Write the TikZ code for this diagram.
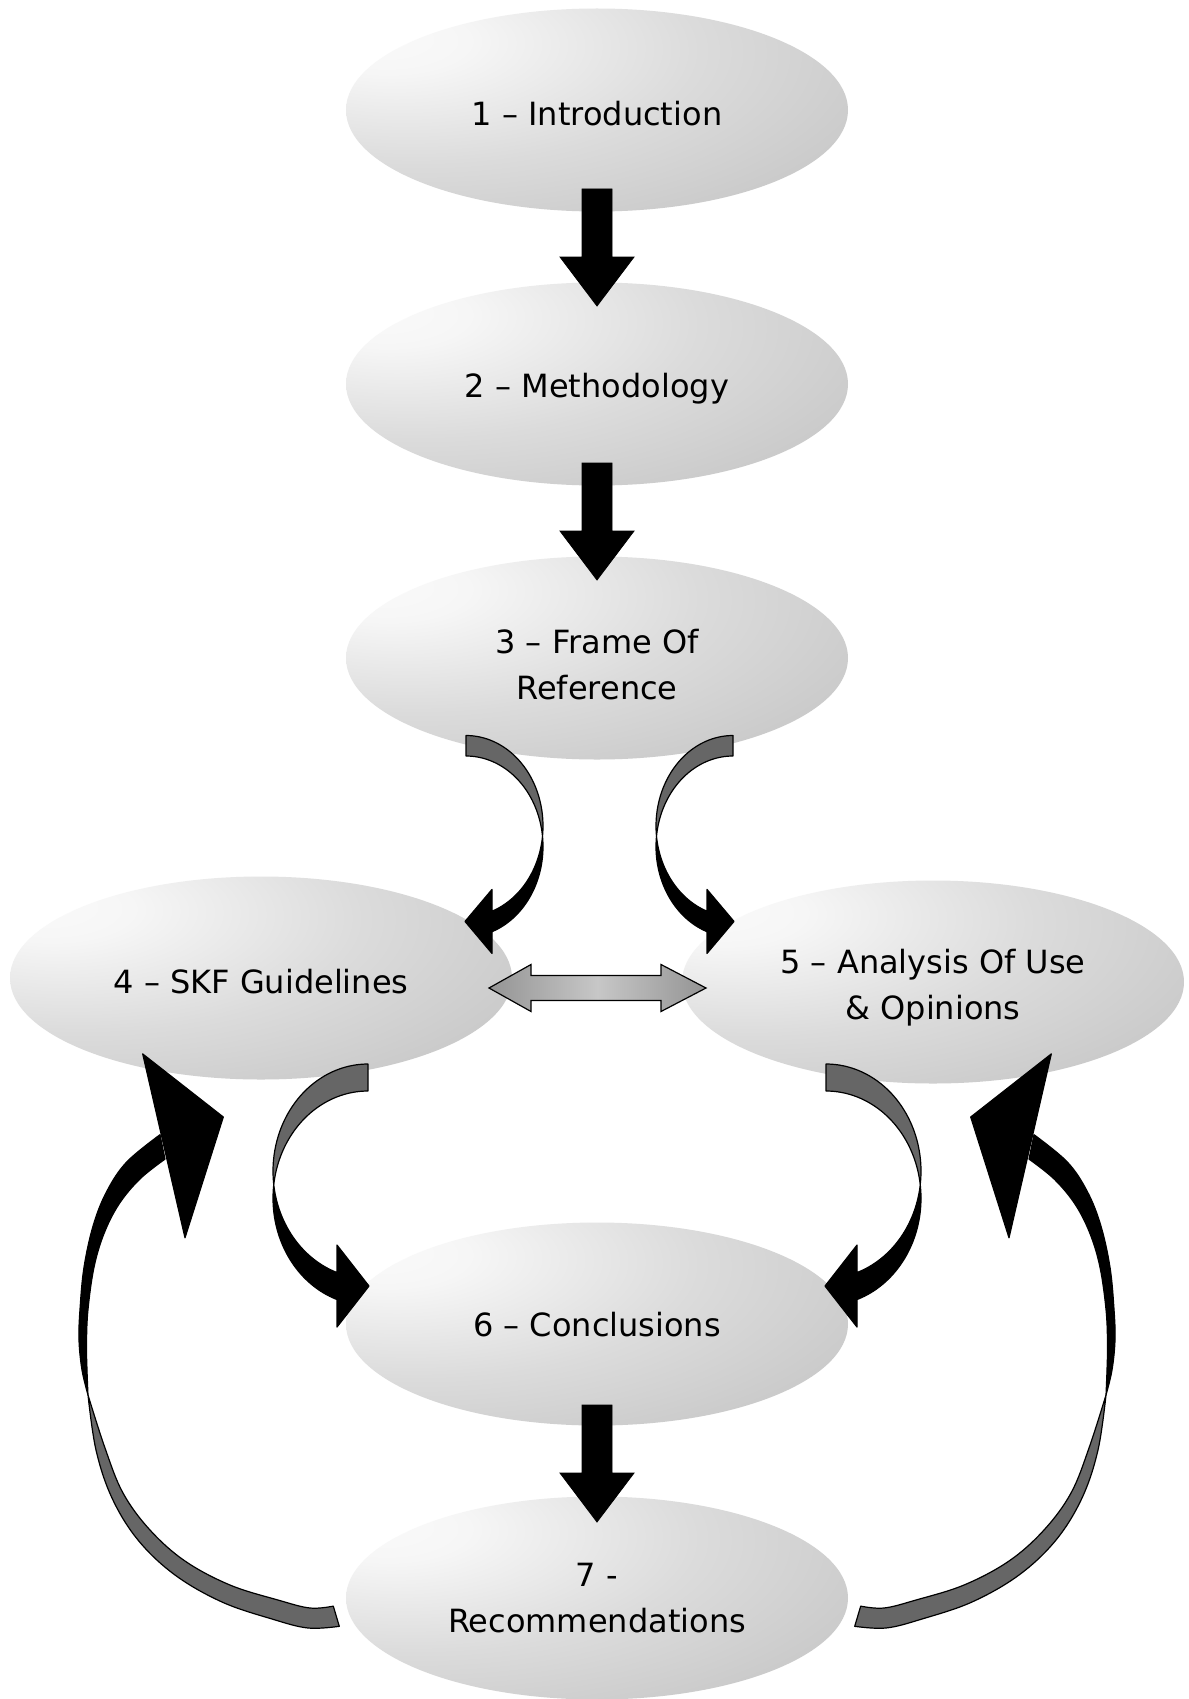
\documentclass[tikz,border=0pt]{standalone}
\usepackage{fontspec}
\setmainfont{DejaVu Sans}
\usetikzlibrary{shapes.geometric}

\definecolor{stageA}{gray}{0.98}
\definecolor{stageA2}{gray}{0.965}
\definecolor{stageB}{gray}{0.86}
\definecolor{stageB2}{gray}{0.775}
\definecolor{stageC}{gray}{0.752}
\definecolor{linkA}{gray}{0.38}
\definecolor{linkB}{gray}{0.78}
\definecolor{ribbon}{gray}{0.40}

% soft light spot towards the upper left of every stage
\pgfdeclareradialshading{stageshade}{\pgfpoint{-22bp}{18bp}}{%
  color(0bp)=(stageA); color(8bp)=(stageA2); color(28bp)=(stageB);
  color(50bp)=(stageB2); color(60bp)=(stageC); color(150bp)=(stageC)}
% dark ends, light middle for the two-headed link
\pgfdeclarehorizontalshading{linkshade}{100bp}{%
  color(0bp)=(linkA); color(50bp)=(linkB); color(100bp)=(linkA)}

% twisted ribbon arrow made of two shifted ellipses
% #1 cx, #2 cy, #3 rx, #4 ry, #5 half tail width,
% #6 head-base offset, #7 head half-height, #8 head length, #9 side (+1 right, -1 left)
\newcommand{\bendarrow}[9]{%
  \pgfmathsetmacro{\bendT}{asin(#5/#4)}%
  \pgfmathsetmacro{\bendE}{acos(#6/#3)}%
  \pgfmathsetmacro{\bendY}{#2+#4*sin(\bendE)}%
  \filldraw[ribbonedge, fill=ribbon]
    plot[domain=-90:\bendT, samples=50] ({#1+(#9)*#3*cos(\x)}, {#2-#5+#4*sin(\x)})
    -- plot[domain=-\bendT:-90, samples=50] ({#1+(#9)*#3*cos(\x)}, {#2+#5+#4*sin(\x)})
    -- cycle;
  \filldraw[ribbonedge, fill=black]
    plot[domain=-\bendT:\bendE, samples=50] ({#1+(#9)*#3*cos(\x)}, {#2+#5+#4*sin(\x)})
    -- ({#1+(#9)*#6}, {\bendY+#7})
    -- ({#1+(#9)*(#6-#8)}, {\bendY})
    -- ({#1+(#9)*#6}, {\bendY-#7})
    -- plot[domain=\bendE:\bendT, samples=50] ({#1+(#9)*#3*cos(\x)}, {#2-#5+#4*sin(\x)})
    -- cycle;
}

% straight block arrow on the central axis: #1 shaft top, #2 head base, #3 tip
\newcommand{\stemarrow}[3]{%
  \filldraw[black, line width=0.8pt]
    (582,#1) -- (612,#1) -- (612,#2) -- (634,#2) -- (597,#3)
    -- (560,#2) -- (582,#2) -- cycle;
}

% large feedback loop on the left side
\newcommand{\loopribbon}{%
  \filldraw[ribbonedge, fill=ribbon]
    plot[smooth, tension=0.6] coordinates {(88,1395) (96,1450) (112,1498)
      (138,1540) (175,1575) (222,1602) (272,1619) (308,1628) (339.3,1626.3)}
    -- plot[smooth, tension=0.6] coordinates {(333.3,1606.1) (310,1608) (278,1600)
      (230,1585) (185,1561) (150,1530) (123,1493) (105,1448) (88,1395)}
    -- cycle;
  \filldraw[ribbonedge, fill=black]
    plot[smooth, tension=0.6] coordinates {(160,1134.7) (126.7,1162) (106.7,1191.5)
      (93.3,1225.2) (84,1267.3) (80,1309.4) (79,1340) (82,1370) (88,1395)}
    -- plot[smooth, tension=0.6] coordinates {(88,1395) (87,1370) (86.5,1343) (88,1309.4)
      (94,1267.3) (104,1233.6) (119,1204.1) (140,1178.9) (165,1159.1)}
    -- cycle;
  \filldraw[ribbonedge, fill=black] (142.7,1053.9) -- (223.3,1117) -- (185,1237.8) -- cycle;
}

\begin{document}
\begin{tikzpicture}[x=1pt, y=-1pt,
  stage/.style={ellipse, minimum width=502pt, minimum height=203pt, inner sep=0pt,
    shading=stageshade},
  caption/.style={align=center, inner sep=0pt, font=\fontsize{32}{46}\selectfont},
  ribbonedge/.style={draw=black, line width=1.2pt, line join=round}]

\useasboundingbox (0,0) rectangle (1188,1699);
\fill[white] (0,0) rectangle (1188,1699);

% stages
\node[stage] (intro)    at (597,110)  {};
\node[stage] (method)   at (597,384)  {};
\node[stage] (frame)    at (597,658)  {};
\node[stage] (skf)      at (261,978)  {};
\node[stage] (analysis) at (933,982)  {};
\node[stage] (concl)    at (597,1324) {};
\node[stage] (recom)    at (597,1598) {};

% stage titles, sitting a little below the centre of each stage
\node[caption] (introT)    at ([yshift=-4pt]intro.center)    {1 – Introduction};
\node[caption] (methodT)   at ([yshift=-5pt]method.center)   {2 – Methodology};
\node[caption] (frameT)    at ([yshift=-7pt]frame.center)    {3 – Frame Of\\Reference};
\node[caption] (skfT)      at ([yshift=-4pt]skf.center)      {4 – SKF Guidelines};
\node[caption] (analysisT) at ([yshift=-6pt]analysis.center) {5 – Analysis Of Use\\\& Opinions};
\node[caption] (conclT)    at ([yshift=-1pt]concl.center)    {6 – Conclusions};
\node[caption] (recomT)    at (recom.center)                 {7 -\\Recommendations};

% straight flow
\stemarrow{189}{257}{306}
\stemarrow{463}{531}{580}
\stemarrow{1405}{1473}{1522}

% frame of reference splits into guidelines and analysis
\bendarrow{466}{836.25}{77}{90.5}{10.25}{26}{32}{27}{1}
\bendarrow{733}{836.25}{77}{90.5}{10.25}{26}{32}{27}{-1}

% guidelines and analysis feed the conclusions
\bendarrow{368}{1184.7}{95}{107.2}{13.5}{31}{41}{32}{-1}
\bendarrow{826}{1184.7}{95}{107.2}{13.5}{31}{41}{32}{1}

% two-way link between guidelines and analysis
\shadedraw[shading=linkshade, draw=black, line width=1.2pt, line join=miter]
  (489,988) -- (531,964.5) -- (531,975.5) -- (661,975.5) -- (661,964.5)
  -- (706,988) -- (661,1011.5) -- (661,1000.5) -- (531,1000.5) -- (531,1011.5) -- cycle;

% recommendations loop back to guidelines and analysis
\loopribbon
\begin{scope}[shift={(1194,0)}, xscale=-1]
  \loopribbon
\end{scope}
\end{tikzpicture}
\end{document}
